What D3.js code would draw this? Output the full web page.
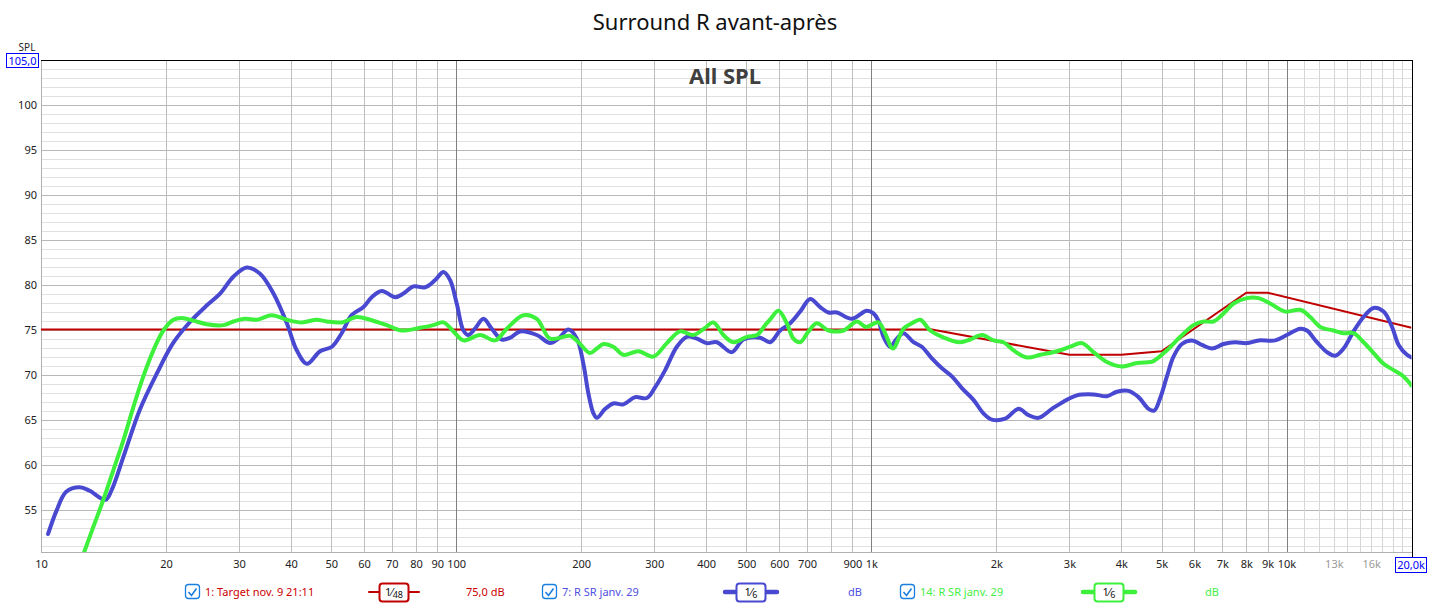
<!DOCTYPE html>
<html><head><meta charset="utf-8">
<script src="https://cdn.jsdelivr.net/npm/d3@7"></script>
<style>
body{margin:0;background:#fff}
svg{display:block}
text{font-family:"Noto Sans","Open Sans",sans-serif}
</style>
</head><body>
<svg id="c" width="1431" height="604"></svg>
<script>
// ---- data ----
const chartTitle = "Surround R avant-après";
const plotLabel = "All SPL";
const yTickValues = [55,60,65,70,75,80,85,90,95,100];
const xTickValues = [10,20,30,40,50,60,70,80,90,100,200,300,400,500,600,700,900,1000,2000,3000,4000,5000,6000,7000,8000,9000,10000];
const xTickLabels = ["10","20","30","40","50","60","70","80","90","100","200","300","400","500","600","700","900","1k","2k","3k","4k","5k","6k","7k","8k","9k","10k"];
const xMinorTickValues = [13000,16000];
const xMinorTickLabels = ["13k","16k"];
const legendNames = ["1: Target nov. 9 21:11","7: R SR janv. 29","14: R SR janv. 29"];
const legendSmoothing = ["48","6","6"];
const legendValues = ["75,0 dB","dB","dB"];

const targetSeries = [[10,75],[1400,75],[3000,72.2],[4000,72.2],[5000,72.6],[8000,79.1],[9000,79.1],[20000,75.2]];

const blueSeries = [[10.4,52.3],[10.9,54.9],[11.5,57.0],[12.4,57.5],[13.1,57.1],[14.3,56.1],[14.8,57.2],[15.8,60.9],[17.3,66.1],[19.0,70.1],[20.8,73.5],[22.9,75.9],[25.1,77.7],[27.0,79.0],[29.1,80.9],[31.3,81.9],[33.7,81.2],[36.3,79.0],[39.1,75.7],[41.3,72.7],[43.7,71.2],[47.0,72.6],[50.2,73.1],[53.0,74.6],[56.0,76.6],[59.8,77.5],[62.6,78.6],[66.2,79.3],[71.3,78.6],[74.6,79.0],[78.9,79.8],[84.2,79.7],[89.0,80.5],[93.2,81.4],[96.7,80.5],[100.3,77.9],[104.1,74.9],[107,74.4],[111,75.1],[116.3,76.2],[121.8,75.1],[128.8,73.9],[134.9,74.1],[142.5,74.8],[156.4,74.4],[168.4,73.5],[176.3,74.0],[186.4,75.0],[195.3,74.0],[202.5,71.2],[208.2,67.9],[214.1,65.7],[218.2,65.2],[228.5,66.2],[239.2,66.8],[252.8,66.7],[269.8,67.5],[287.9,67.4],[301.5,68.6],[318.7,70.5],[340,73.1],[359.4,74.2],[379.9,74.0],[401.5,73.5],[424.4,73.6],[461.2,72.5],[491.8,73.9],[539.6,74.1],[570.4,73.6],[603,74.9],[637.5,75.7],[673.9,77.0],[712.3,78.4],[753,77.5],[788.5,76.9],[826,76.9],[897.4,76.2],[975,77.1],[1012,76.8],[1040,76.0],[1070,74.2],[1110,73.1],[1152,74.0],[1195,74.6],[1263,73.6],[1323,73.1],[1399,71.8],[1479,70.7],[1563,69.8],[1652,68.5],[1762,67.2],[1862,65.7],[1952,65.0],[2101,65.1],[2262,66.2],[2391,65.5],[2527,65.2],[2722,66.2],[2903,67.0],[3127,67.7],[3428,67.8],[3693,67.6],[3904,68.1],[4164,68.2],[4401,67.5],[4652,66.2],[4801,66.0],[4963,67.4],[5151,69.8],[5343,72.0],[5598,73.4],[5918,73.8],[6256,73.3],[6613,72.9],[7051,73.4],[7523,73.6],[8027,73.5],[8562,73.8],[9393,73.8],[10020,74.4],[10790,75.1],[11200,74.9],[11840,73.6],[12515,72.5],[13105,72.1],[13722,72.9],[14505,74.8],[15330,76.4],[16210,77.4],[17130,77.0],[17950,75.3],[18620,73.3],[19500,72.2],[20000,71.9]];

const greenSeries = [[12.5,49.3],[12.71,50.3],[13.37,53.1],[14.13,56.1],[14.94,59.4],[15.79,62.7],[16.69,66.4],[17.64,69.8],[18.65,72.7],[19.71,74.9],[20.83,76.1],[21.83,76.3],[23.28,76.0],[25.07,75.6],[27.5,75.5],[29.07,75.9],[31.0,76.2],[33.1,76.1],[35.96,76.6],[39.08,76.1],[42.46,75.8],[46.15,76.1],[48.8,75.9],[53.0,75.8],[57.6,76.4],[62.0,76.1],[68.0,75.5],[73.9,74.9],[81.8,75.2],[88.1,75.5],[93.2,75.8],[98.5,74.8],[104.1,73.8],[114.2,74.4],[124.1,73.8],[132.4,75.1],[145.2,76.6],[156.4,76.2],[168.4,74.0],[188.1,74.3],[197,73.6],[210,72.4],[218.2,72.9],[226.3,73.4],[239,73.1],[252.8,72.2],[274.8,72.6],[298.5,72.0],[321.7,73.5],[346.2,74.8],[372.8,74.4],[395.3,75.1],[416.6,75.8],[440.2,74.4],[465.4,73.6],[501.3,74.2],[530.1,74.4],[555,75.5],[572,76.2],[597.4,77.1],[625.8,75.7],[649.1,74.0],[673.9,73.6],[705.6,74.8],[739.2,75.7],[788.5,74.9],[856.6,74.9],[922.9,75.9],[971,75.3],[1040,75.8],[1079.5,74.6],[1127,72.9],[1195,75.1],[1252,75.7],[1311,76.1],[1386,74.9],[1479,74.2],[1636,73.6],[1730,73.9],[1846,74.4],[1969,73.8],[2081,73.6],[2200,72.7],[2370,71.9],[2551,72.2],[2799,72.6],[3012,73.1],[3215,73.5],[3428,72.5],[3693,71.4],[4013,70.9],[4362,71.3],[4695,71.4],[4782,71.5],[5151,72.7],[5546,74.2],[5970,75.5],[6310,75.9],[6670,75.9],[7051,76.8],[7455,77.9],[8027,78.5],[8562,78.5],[9135,77.9],[9927,77.0],[10790,77.2],[11405,76.4],[12060,75.3],[12980,74.9],[13722,74.6],[14505,74.6],[15330,73.6],[16210,72.4],[17130,71.2],[18110,70.5],[19140,69.8],[20000,68.8]];

// ---- layout ----
const L = 41, R = 1411.5, T = 59.5, B = 552;
const svg = d3.select("#c");
svg.append("rect").attr("width",1431).attr("height",604).attr("fill","#fff");
const x = d3.scaleLog().domain([10,20000]).range([L,R]);
const y = d3.scaleLinear().domain([50.3,105]).range([B,T]);

const colTarget = "#c00000", colBlue = "#4848d0", colGreen = "#3cf03c";

// grid
const grid = svg.append("g").attr("shape-rendering","crispEdges");
const hMinor = d3.range(51,105,1).filter(v=>v%5!==0);
const hMajor = d3.range(55,105,5);
grid.selectAll(".hm").data(hMinor).enter().append("line")
  .attr("x1",L).attr("x2",R).attr("y1",d=>Math.round(y(d))+0.5).attr("y2",d=>Math.round(y(d))+0.5)
  .attr("stroke","#e0e0e0");
grid.selectAll(".hM").data(hMajor).enter().append("line")
  .attr("x1",L).attr("x2",R).attr("y1",d=>Math.round(y(d))+0.5).attr("y2",d=>Math.round(y(d))+0.5)
  .attr("stroke","#b8b8b8");
const vHF = d3.range(11000,20000,1000);
grid.selectAll(".vh").data(vHF).enter().append("line")
  .attr("y1",T).attr("y2",B).attr("x1",d=>Math.round(x(d))+0.5).attr("x2",d=>Math.round(x(d))+0.5)
  .attr("stroke","#d6d6d6");
const vMain = [];
[10,100,1000].forEach(dec=>{ for(let k=2;k<=9;k++) vMain.push(dec*k); });
grid.selectAll(".vm").data(vMain).enter().append("line")
  .attr("y1",T).attr("y2",B).attr("x1",d=>Math.round(x(d))+0.5).attr("x2",d=>Math.round(x(d))+0.5)
  .attr("stroke","#bdbdbd");
grid.selectAll(".vd").data([100,1000,10000]).enter().append("line")
  .attr("y1",T).attr("y2",B).attr("x1",d=>Math.round(x(d))+0.5).attr("x2",d=>Math.round(x(d))+0.5)
  .attr("stroke","#808080");
// frame
grid.append("line").attr("x1",L).attr("x2",L).attr("y1",T).attr("y2",B).attr("stroke","#b0b0b0");
grid.append("line").attr("x1",L).attr("x2",R).attr("y1",B+0.5).attr("y2",B+0.5).attr("stroke","#b0b0b0");
grid.append("line").attr("x1",L).attr("x2",R+1).attr("y1",T+0.5).attr("y2",T+0.5).attr("stroke","#000");
grid.append("line").attr("x1",R+0.5).attr("x2",R+0.5).attr("y1",T).attr("y2",B+20).attr("stroke","#000");

// clip
svg.append("clipPath").attr("id","clip").append("rect").attr("x",L).attr("y",T).attr("width",R-L).attr("height",B-T);

// title
svg.append("text").attr("x",715).attr("y",30).attr("text-anchor","middle")
  .attr("font-size",22).attr("fill","#111").text(chartTitle);
svg.append("text").attr("x",725).attr("y",84).attr("text-anchor","middle")
  .attr("font-size",22).attr("font-weight","bold").attr("fill","#404040").text(plotLabel);

// axes
const xAxis = d3.axisBottom(x).tickValues(xTickValues).tickFormat((d,i)=>xTickLabels[i]).tickSize(0).tickPadding(8);
const gx = svg.append("g").attr("transform",`translate(0,${B})`).call(xAxis);
gx.select(".domain").remove();
gx.selectAll("text").attr("font-size",11).attr("fill","#222").attr("font-family","Noto Sans, Open Sans, sans-serif");
const xAxis2 = d3.axisBottom(x).tickValues(xMinorTickValues).tickFormat((d,i)=>xMinorTickLabels[i]).tickSize(0).tickPadding(8);
const gx2 = svg.append("g").attr("transform",`translate(0,${B})`).call(xAxis2);
gx2.select(".domain").remove();
gx2.selectAll("text").attr("font-size",11).attr("fill","#9a9a9a").attr("font-family","Noto Sans, Open Sans, sans-serif");

const yAxis = d3.axisLeft(y).tickValues(yTickValues).tickSize(0).tickPadding(4);
const gy = svg.append("g").attr("transform",`translate(${L},0)`).call(yAxis);
gy.select(".domain").remove();
gy.selectAll("text").attr("font-size",11).attr("fill","#222").attr("font-family","Noto Sans, Open Sans, sans-serif");

// SPL label and boxes
svg.append("text").attr("x",27).attr("y",51).attr("text-anchor","middle").attr("font-size",10).attr("fill","#222").text("SPL");
svg.append("rect").attr("x",6.5).attr("y",53.5).attr("width",32).attr("height",14).attr("fill","#fff").attr("stroke","#0000ff");
svg.append("text").attr("x",22.5).attr("y",64.5).attr("text-anchor","middle").attr("font-size",11).attr("fill","#0000ff").text(d3.format(".1f")(y.domain()[1]).replace(".",","));
svg.append("rect").attr("x",1395.5).attr("y",557.5).attr("width",31).attr("height",15).attr("fill","#fff").attr("stroke","#0000ff");
svg.append("text").attr("x",1411).attr("y",569).attr("text-anchor","middle").attr("font-size",11).attr("fill","#0000ff").text((x.domain()[1]/1000).toFixed(1).replace(".",",")+"k");

// lines
const line = d3.line().x(d=>x(d[0])).y(d=>y(d[1]));
const smooth = d3.line().x(d=>x(d[0])).y(d=>y(d[1])).curve(d3.curveCatmullRom.alpha(0.5));
const plot = svg.append("g").attr("clip-path","url(#clip)");
plot.append("path").datum(targetSeries).attr("d",line).attr("fill","none").attr("stroke",colTarget).attr("stroke-width",2);
plot.append("path").datum(blueSeries).attr("d",smooth).attr("fill","none").attr("stroke",colBlue).attr("stroke-width",4).attr("stroke-linecap","round").attr("stroke-linejoin","round");
plot.append("path").datum(greenSeries).attr("d",smooth).attr("fill","none").attr("stroke",colGreen).attr("stroke-width",4).attr("stroke-linecap","round").attr("stroke-linejoin","round");

// legend
const legY = 592;
const legCfg = [
  {cb:185, txt:205, sym:369, symW:50, val:466, col:colTarget, txtCol:"#cc0000", lw:2},
  {cb:542, txt:562, sym:725, symW:52, val:848, col:colBlue, txtCol:"#5050e0", lw:4.5},
  {cb:900, txt:920, sym:1083, symW:52, val:1205, col:colGreen, txtCol:"#44ee44", lw:4.5}
];
const leg = svg.append("g");
legCfg.forEach((c,i)=>{
  const g = leg.append("g");
  g.append("rect").attr("x",c.cb+0.5).attr("y",legY-7.5).attr("width",14).attr("height",14).attr("rx",3)
    .attr("fill","#fff").attr("stroke","#1a7fe0").attr("stroke-width",1.3);
  g.append("path").attr("d",`M${c.cb+3.5},${legY} L${c.cb+6.5},${legY+3.5} L${c.cb+11.5},${legY-3.5}`)
    .attr("fill","none").attr("stroke","#1a7fe0").attr("stroke-width",1.6);
  g.append("text").attr("x",c.txt).attr("y",legY+4).attr("font-size",11).attr("fill",c.txtCol).text(legendNames[i]);
  g.append("line").attr("x1",c.sym).attr("x2",c.sym+c.symW).attr("y1",legY).attr("y2",legY)
    .attr("stroke",c.col).attr("stroke-width",c.lw).attr("stroke-linecap","round");
  const bx = c.sym + c.symW/2 - 14.5;
  g.append("rect").attr("x",bx).attr("y",legY-8.5).attr("width",29).attr("height",18).attr("rx",3)
    .attr("fill","#fff").attr("stroke",c.col).attr("stroke-width",2);
  const t = g.append("text").attr("x",c.sym + c.symW/2).attr("y",legY+4).attr("text-anchor","middle").attr("font-size",11).attr("fill","#111");
  t.append("tspan").text("1");
  t.append("tspan").text("⁄");
  t.append("tspan").attr("font-size",9).attr("dy",2).text(legendSmoothing[i]);
  g.append("text").attr("x",c.val).attr("y",legY+4).attr("font-size",11).attr("fill",c.txtCol).text(legendValues[i]);
});
</script>
</body></html>
